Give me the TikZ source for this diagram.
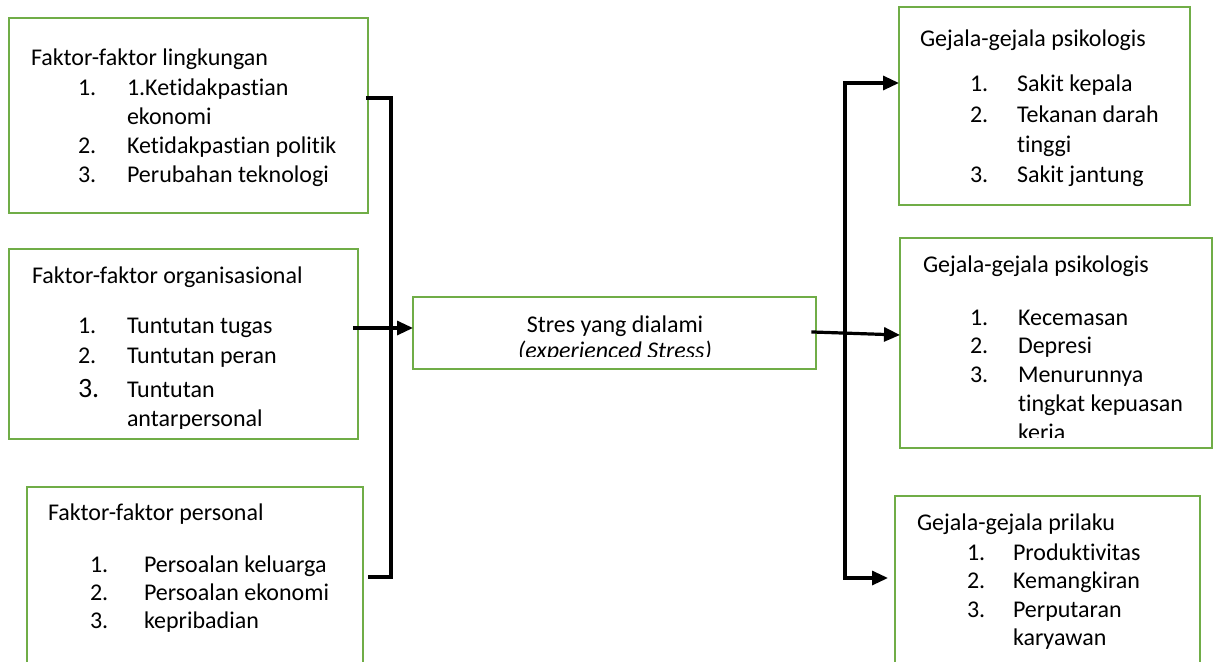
\documentclass[tikz,border=0pt]{standalone}
\usepackage{fontspec}
\setmainfont{Carlito}[Ligatures={NoCommon,NoRequired,NoContextual}]
\usetikzlibrary{arrows.meta}
\definecolor{boxgreen}{HTML}{70AD47}
\tikzset{
  gbox/.style={draw=boxgreen, line width=2.4pt, fill=white, inner sep=0pt, outer sep=0pt},
  txt/.style={anchor=base west, inner sep=0pt, outer sep=0pt, font=\fontsize{24}{28}\selectfont},
  ctxt/.style={anchor=base, inner sep=0pt, outer sep=0pt, font=\fontsize{24}{28}\selectfont},
  conn/.style={line width=3.2pt, line cap=rect, line join=miter},
  arr/.style={conn, -{Triangle[length=16pt,width=14pt]}},
}
\begin{document}
\begin{tikzpicture}[x=1pt,y=-1pt]
\clip (0,0) rectangle (1217,661);
\fill[white] (0,0) rectangle (1217,661);

% boxes
\node[gbox, minimum width=359pt, minimum height=195pt] (b1) at (188.5,115.5) {};
\node[gbox, minimum width=349pt, minimum height=190pt] (b2) at (183.5,344) {};
\node[gbox, minimum width=336pt, minimum height=213pt] (b3) at (195,593.5) {};
\node[gbox, minimum width=403pt, minimum height=72pt] (c) at (614.5,333) {};
\node[gbox, minimum width=291pt, minimum height=198pt] (r1) at (1044.5,106) {};
\node[gbox, minimum width=312pt, minimum height=210pt] (r2) at (1056,343) {};
\node[gbox, minimum width=305pt, minimum height=204pt] (r3) at (1047.5,598) {};

% box 1 text
\node[txt] (b1t) at (31,66) {Faktor-faktor lingkungan};
\node[txt] (b1n1) at (78,95) {1.};
\node[txt] (b1i1) at (127,95) {1.Ketidakpastian};
\node[txt] (b1i1b) at (127,124) {ekonomi};
\node[txt] (b1n2) at (78,153) {2.};
\node[txt] (b1i2) at (127,153) {Ketidakpastian politik};
\node[txt] (b1n3) at (78,182) {3.};
\node[txt] (b1i3) at (127,182) {Perubahan teknologi};

% box 2 text
\begin{scope}
\clip (10,250) rectangle (357,428);
\node[txt] (b2t) at (32,283) {Faktor-faktor organisasional};
\node[txt] (b2n1) at (78,333) {1.};
\node[txt] (b2i1) at (127,333) {Tuntutan tugas};
\node[txt] (b2n2) at (78,363) {2.};
\node[txt] (b2i2) at (127,363) {Tuntutan peran};
\node[txt, font=\fontsize{28}{32}\selectfont] (b2n3) at (78,397) {3.};
\node[txt] (b2i3) at (127,397) {Tuntutan};
\node[txt] (b2i3b) at (127,426) {antarpersonal};
\end{scope}

% box 3 text
\node[txt] (b3t) at (48,520) {Faktor-faktor personal};
\node[txt] (b3n1) at (90,572) {1.};
\node[txt] (b3i1) at (144,572) {Persoalan keluarga};
\node[txt] (b3n2) at (90,600) {2.};
\node[txt] (b3i2) at (144,600) {Persoalan ekonomi};
\node[txt] (b3n3) at (90,628) {3.};
\node[txt] (b3i3) at (144,628) {kepribadian};

% centre text
\begin{scope}
\clip (414,298) rectangle (815,356);
\node[ctxt] (ct1) at (615,332) {Stres yang dialami};
\node[ctxt] (ct2) at (615,358) {\itshape (experienced Stress)};
\end{scope}

% right box 1
\node[txt] (r1t) at (920,47) {Gejala-gejala psikologis};
\node[txt] (r1n1) at (970,92) {1.};
\node[txt] (r1i1) at (1017,92) {Sakit kepala};
\node[txt] (r1n2) at (970,122) {2.};
\node[txt] (r1i2) at (1017,122) {Tekanan darah};
\node[txt] (r1i2b) at (1017,152) {tinggi};
\node[txt] (r1n3) at (970,182) {3.};
\node[txt] (r1i3) at (1017,182) {Sakit jantung};

% right box 2
\begin{scope}
\clip (901,239) rectangle (1211,437);
\node[txt] (r2t) at (923,272) {Gejala-gejala psikologis};
\node[txt] (r2n1) at (970,325) {1.};
\node[txt] (r2i1) at (1018,325) {Kecemasan};
\node[txt] (r2n2) at (970,353) {2.};
\node[txt] (r2i2) at (1018,353) {Depresi};
\node[txt] (r2n3) at (970,382) {3.};
\node[txt] (r2i3) at (1018,382) {Menurunnya};
\node[txt] (r2i3b) at (1018,411) {tingkat kepuasan};
\node[txt] (r2i3c) at (1018,440) {keria};
\end{scope}

% right box 3
\node[txt] (r3t) at (917,530) {Gejala-gejala prilaku};
\node[txt] (r3n1) at (967,560) {1.};
\node[txt] (r3i1) at (1013,560) {Produktivitas};
\node[txt] (r3n2) at (967,588) {2.};
\node[txt] (r3i2) at (1013,588) {Kemangkiran};
\node[txt] (r3n3) at (967,617) {3.};
\node[txt] (r3i3) at (1013,617) {Perputaran};
\node[txt] (r3i3b) at (1013,645) {karyawan};

% connector coordinates
\coordinate (lt) at (368,98);
\coordinate (lb) at (370,577);
\coordinate (lx) at (391,98);
\coordinate (ms) at (355,328);
\coordinate (cs) at (813,332);
\coordinate (rx) at (845,83);
\coordinate (rb) at (845,578);

% left bracket
\draw[conn] (lt) -- (lx) -- (lx |- lb) -- (lb);
\draw[arr] (ms) -- (c.west |- ms);
% right
\draw[arr] (cs) -- (r2.west |- 0,335);
\draw[conn] (rx) -- (rb);
\draw[arr] (rx) -- (r1.west |- rx);
\draw[arr] (rb) -- (888,578);
\end{tikzpicture}
\end{document}
